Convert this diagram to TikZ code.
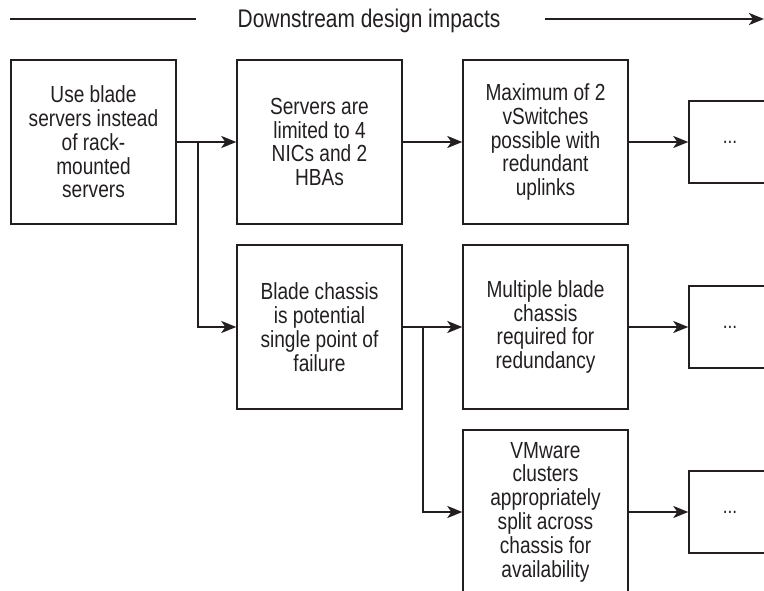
\documentclass[tikz,border=0pt]{standalone}
\usepackage{fontspec}
\setmainfont{Liberation Sans}[FakeStretch=0.82]
\usetikzlibrary{arrows.meta}
\definecolor{ink}{HTML}{231F20}
\begin{document}
\begin{tikzpicture}[x=1pt,y=-1pt,
  box/.style={draw=ink,line width=1.4pt,minimum width=165pt,minimum height=164pt,
    align=center,inner sep=0pt,text=ink,font=\fontsize{23.3}{23.8}\selectfont},
  more/.style={draw=ink,line width=1.4pt,minimum width=82pt,minimum height=82pt,
    inner sep=0pt,text=ink,font=\fontsize{21}{23.8}\selectfont},
  tip/.style={-{Stealth[length=15pt,width=12pt,inset=4pt]}},
  conn/.style={draw=ink,line width=2.2pt,tip},
  rule/.style={draw=ink,line width=2.4pt}]
\useasboundingbox (0,0) rectangle (764,591);
\clip (0,0) rectangle (764,591);

% heading with its flow arrow
\node[inner sep=0pt,text=ink,font=\fontsize{25.5}{28}\selectfont] (title) at (369,21) {Downstream design impacts};
\coordinate (hl) at (10,19);
\coordinate (hr) at (764,19);
\draw[rule] (hl) -- ([xshift=-41pt]title.west |- hl);
\draw[rule,tip] ([xshift=44pt]title.east |- hr) -- (hr);

% decision and its consequences
\node[box] (use) at (93.5,142) {Use blade\\servers instead\\of rack-\\mounted\\servers};
\node[box] (limits) at (319.5,142) {Servers are\\limited to 4\\NICs and 2\\HBAs};
\node[box] (vsw) at (545.5,142) {Maximum of 2\\vSwitches\\possible with\\redundant\\uplinks};
\node[more] (m1) at (730,142) {...};

\node[box] (spof) at (319.5,327) {Blade chassis\\is potential\\single point of\\failure};
\node[box] (multi) at (545.5,327) {Multiple blade\\chassis\\required for\\redundancy};
\node[more] (m2) at (730,327) {...};

\node[box] (split) at (545.5,512) {VMware\\clusters\\appropriately\\split across\\chassis for\\availability};
\node[more] (m3) at (730,512) {...};

% connectors
\coordinate (j1) at ([xshift=21pt]use.east);
\coordinate (j2) at ([xshift=20pt]spof.east);
\draw[conn] (use.east) -- (limits.west);
\draw[conn] (j1) |- (spof.west);
\draw[conn] (limits.east) -- (vsw.west);
\draw[conn] (vsw.east) -- (m1.west);
\draw[conn] (spof.east) -- (multi.west);
\draw[conn] (j2) |- (split.west);
\draw[conn] (multi.east) -- (m2.west);
\draw[conn] (split.east) -- (m3.west);
\end{tikzpicture}
\end{document}
